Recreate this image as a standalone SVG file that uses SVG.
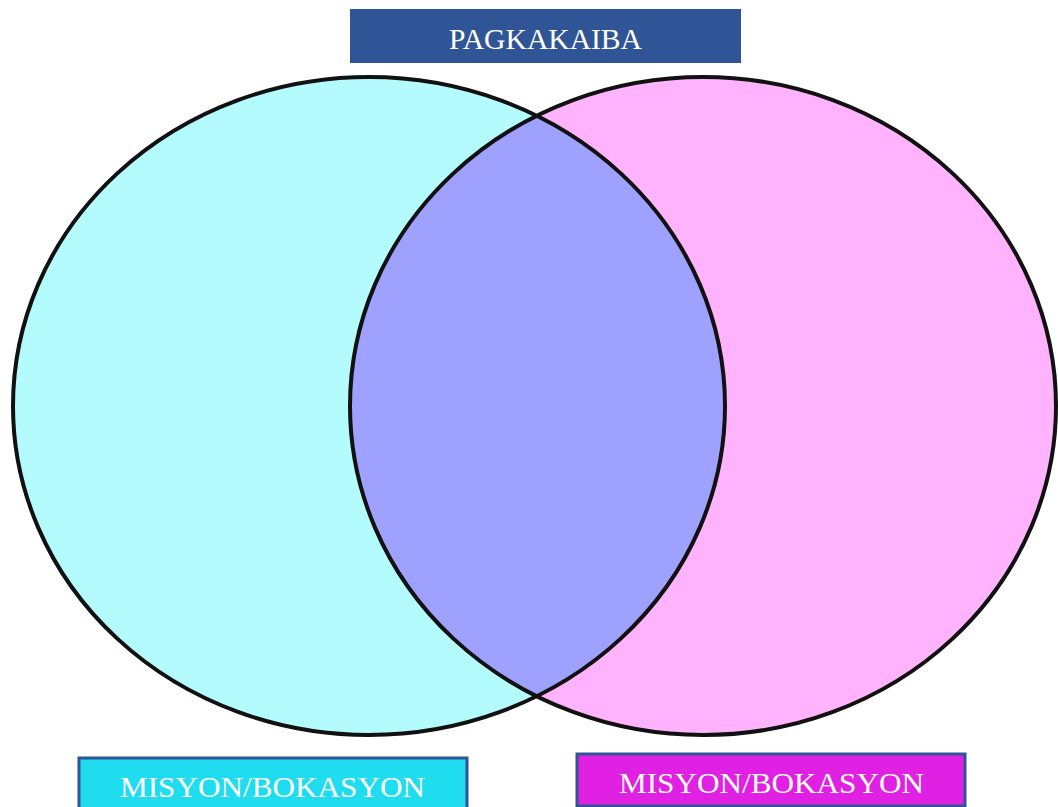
<svg xmlns="http://www.w3.org/2000/svg" width="1058" height="807" viewBox="0 0 1058 807">
<style>
.lbl{font-family:"Liberation Serif","DejaVu Serif",serif;fill:#ffffff;text-anchor:middle}
.ring{fill:none;stroke:#111111;stroke-width:4}
</style>
<defs>
<clipPath id="leftClip"><ellipse cx="369" cy="406" rx="356" ry="329"/></clipPath>
</defs>
<rect width="1058" height="807" fill="#ffffff"/>
<g id="venn">
<ellipse cx="369" cy="406" rx="356" ry="329" fill="#B4FBFD"/>
<ellipse cx="703" cy="406" rx="353" ry="329" fill="#FEB3FC"/>
<ellipse cx="703" cy="406" rx="353" ry="329" fill="#9FA1FF" clip-path="url(#leftClip)"/>
<ellipse class="ring" cx="369" cy="406" rx="356" ry="329"/>
<ellipse class="ring" cx="703" cy="406" rx="353" ry="329"/>
</g>
<g id="title">
<rect x="350" y="9" width="391" height="54" fill="#2F5597"/>
<text class="lbl" x="545.5" y="49" font-size="29" textLength="193" lengthAdjust="spacingAndGlyphs">PAGKAKAIBA</text>
</g>
<g id="label-left">
<rect x="79" y="758" width="388" height="52" fill="#1FDDEF" stroke="#2F5597" stroke-width="3"/>
<text class="lbl" x="272.5" y="797" font-size="30" textLength="305" lengthAdjust="spacingAndGlyphs">MISYON/BOKASYON</text>
</g>
<g id="label-right">
<rect x="577" y="754" width="388" height="52" fill="#E020E2" stroke="#2F5597" stroke-width="3"/>
<text class="lbl" x="771.5" y="793" font-size="30" textLength="305" lengthAdjust="spacingAndGlyphs">MISYON/BOKASYON</text>
</g>
</svg>
